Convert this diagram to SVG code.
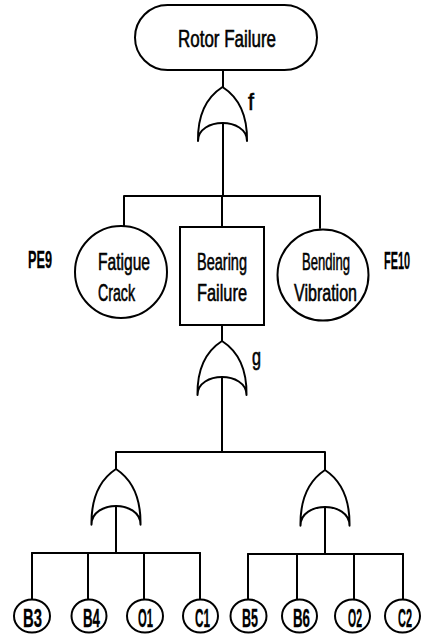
<svg xmlns="http://www.w3.org/2000/svg" xmlns:xlink="http://www.w3.org/1999/xlink" width="421" height="638" viewBox="0 0 421 638">
<style>
.s{fill:none;stroke:#000;stroke-width:2;stroke-linejoin:round;stroke-linecap:round}
.n{fill:#fff;stroke:#000;stroke-width:2}
.t{font-family:"Liberation Sans",Arial,sans-serif;font-size:24px;fill:#000;stroke:#000;stroke-width:0.6}
.b{font-weight:bold;stroke-width:0.3}
.lf{font-size:26px}
</style>
<defs>
<path id="or" class="s" d="M0,0 C-14,9 -25,25 -24.5,54 C-24.5,42 -12,36 0,36 C12,36 24.5,42 24.5,54 C25,25 14,9 0,0 Z"/>
</defs>
<rect width="421" height="638" fill="#fff"/>
<g id="connectors" class="s">
<path d="M223,70 V87 M223,123 V196 M124,196 H320 M124,196 V226 M222,196 V227 M320,196 V228"/>
<path d="M222,325 V341 M222,377 V452 M116,452 H325 M116,452 V469 M325,452 V470"/>
<path d="M116,506 V553 M325,507 V554 M32,553 H200 M248,554 H403"/>
<path d="M32,553 V599 M88,553 V599 M144,553 V599 M200,553 V599 M248,554 V600 M297,554 V600 M354,554 V600 M403,554 V600"/>
</g>
<g id="top"><rect class="n" x="135" y="5" width="182" height="65" rx="32.5"/><text class="t" x="178" y="47" font-size="26" textLength="98" lengthAdjust="spacingAndGlyphs">Rotor Failure</text></g>
<g id="gate-f"><use xlink:href="#or" transform="translate(222.5,87)"/><text class="t" x="248" y="110" font-size="21" textLength="6" lengthAdjust="spacingAndGlyphs">f</text></g>
<g id="fatigue"><circle class="n" cx="121" cy="272" r="46"/><text class="t" x="98" y="270" textLength="52" lengthAdjust="spacingAndGlyphs">Fatigue</text><text class="t" x="98" y="301" textLength="37" lengthAdjust="spacingAndGlyphs">Crack</text></g>
<g id="bearing"><rect class="n" x="180" y="227" width="84" height="98"/><text class="t" x="197" y="270" textLength="50" lengthAdjust="spacingAndGlyphs">Bearing</text><text class="t" x="197" y="301" textLength="50" lengthAdjust="spacingAndGlyphs">Failure</text></g>
<g id="bending"><circle class="n" cx="323" cy="275" r="45.5"/><text class="t" x="302" y="270" textLength="48" lengthAdjust="spacingAndGlyphs">Bending</text><text class="t" x="294" y="301" textLength="63" lengthAdjust="spacingAndGlyphs">Vibration</text></g>
<g id="pe9"><text class="t b" x="28" y="268" textLength="24" lengthAdjust="spacingAndGlyphs">PE9</text></g>
<g id="fe10"><text class="t b" x="384" y="269" textLength="26" lengthAdjust="spacingAndGlyphs">FE10</text></g>
<g id="gate-g"><use xlink:href="#or" transform="translate(222,341)"/><text class="t" x="252" y="365" font-size="21" textLength="9" lengthAdjust="spacingAndGlyphs">g</text></g>
<g id="gate-l"><use xlink:href="#or" transform="translate(116,469) scale(1,1.03)"/></g>
<g id="gate-r"><use xlink:href="#or" transform="translate(325,470) scale(1,1.03)"/></g>
<g id="B3"><ellipse class="n" cx="32" cy="616" rx="18" ry="16.5"/><text class="t b lf" x="32.5" y="627" text-anchor="middle" textLength="19" lengthAdjust="spacingAndGlyphs">B3</text></g>
<g id="B4"><ellipse class="n" cx="89" cy="616" rx="17.5" ry="16.5"/><text class="t b lf" x="91.5" y="627" text-anchor="middle" textLength="17" lengthAdjust="spacingAndGlyphs">B4</text></g>
<g id="O1"><ellipse class="n" cx="145" cy="616" rx="18" ry="16.5"/><text class="t b lf" x="145.5" y="627" text-anchor="middle" textLength="15" lengthAdjust="spacingAndGlyphs">O1</text></g>
<g id="C1"><ellipse class="n" cx="200.5" cy="616" rx="17.5" ry="16.5"/><text class="t b lf" x="202.5" y="627" text-anchor="middle" textLength="15" lengthAdjust="spacingAndGlyphs">C1</text></g>
<g id="B5"><ellipse class="n" cx="248.5" cy="616" rx="18" ry="16.5"/><text class="t b lf" x="250" y="627" text-anchor="middle" textLength="16" lengthAdjust="spacingAndGlyphs">B5</text></g>
<g id="B6"><ellipse class="n" cx="299.5" cy="616" rx="17.5" ry="16.5"/><text class="t b lf" x="301.5" y="627" text-anchor="middle" textLength="17" lengthAdjust="spacingAndGlyphs">B6</text></g>
<g id="O2"><ellipse class="n" cx="352.5" cy="616" rx="17.5" ry="16.5"/><text class="t b lf" x="355" y="627" text-anchor="middle" textLength="14" lengthAdjust="spacingAndGlyphs">O2</text></g>
<g id="C2"><ellipse class="n" cx="402.5" cy="616" rx="17.5" ry="16.5"/><text class="t b lf" x="405" y="627" text-anchor="middle" textLength="14" lengthAdjust="spacingAndGlyphs">C2</text></g>
</svg>
